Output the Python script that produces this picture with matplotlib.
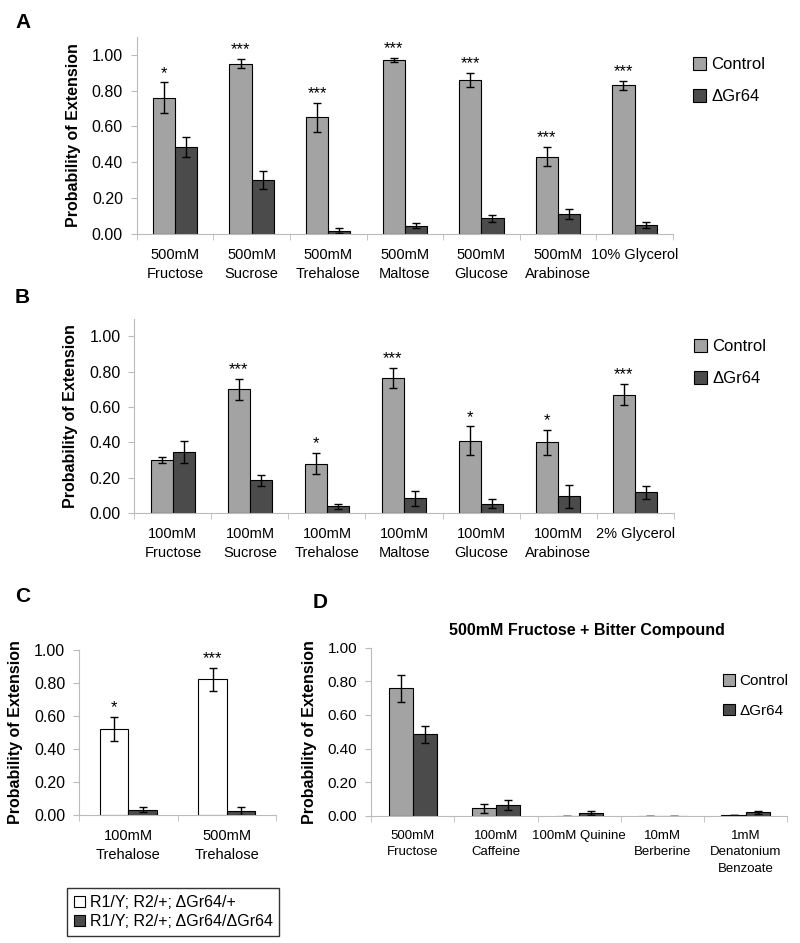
import numpy as np
import matplotlib
matplotlib.use("Agg")
import matplotlib.pyplot as plt
from matplotlib.patches import Patch

plt.rcParams['font.family'] = ['Liberation Sans', 'DejaVu Sans']
SANS = ['Liberation Sans', 'DejaVu Sans']

# --- data ---
a_labels = ["500mM\nFructose", "500mM\nSucrose", "500mM\nTrehalose", "500mM\nMaltose",
            "500mM\nGlucose", "500mM\nArabinose", "10% Glycerol"]
a_ctrl = [0.76, 0.95, 0.65, 0.97, 0.86, 0.43, 0.83]
a_ctrl_err = [0.085, 0.026, 0.08, 0.012, 0.038, 0.054, 0.025]
a_mut = [0.485, 0.30, 0.018, 0.046, 0.087, 0.111, 0.048]
a_mut_err = [0.054, 0.05, 0.013, 0.015, 0.02, 0.028, 0.018]
a_stars = ["*", "***", "***", "***", "***", "***", "***"]

b_labels = ["100mM\nFructose", "100mM\nSucrose", "100mM\nTrehalose", "100mM\nMaltose",
            "100mM\nGlucose", "100mM\nArabinose", "2% Glycerol"]
b_ctrl = [0.30, 0.70, 0.28, 0.765, 0.41, 0.40, 0.67]
b_ctrl_err = [0.015, 0.058, 0.06, 0.055, 0.08, 0.072, 0.06]
b_mut = [0.345, 0.184, 0.037, 0.083, 0.053, 0.094, 0.118]
b_mut_err = [0.061, 0.031, 0.014, 0.042, 0.025, 0.067, 0.037]
b_stars = ["", "***", "*", "***", "*", "*", "***"]

c_labels = ["100mM\nTrehalose", "500mM\nTrehalose"]
c_het = [0.52, 0.82]
c_het_err = [0.075, 0.07]
c_hom = [0.03, 0.022]
c_hom_err = [0.015, 0.022]
c_stars = ["*", "***"]

d_labels = ["500mM\nFructose", "100mM\nCaffeine", "100mM Quinine", "10mM\nBerberine",
            "1mM\nDenatonium\nBenzoate"]
d_ctrl = [0.76, 0.043, 0.0, 0.0, 0.005]
d_ctrl_err = [0.08, 0.025, 0.0, 0.0, 0.0]
d_mut = [0.485, 0.063, 0.016, 0.0, 0.02]
d_mut_err = [0.05, 0.032, 0.01, 0.0, 0.01]

LIGHT = "#a3a3a3"
DARK = "#4b4b4b"
W = 0.29


def bar_panel(ax, labels, v1, e1, v2, e2, c1, c2, ymax, fs=10.5, yfs=11.5):
    x = np.arange(len(labels))
    ax.bar(x - W / 2, v1, W, color=c1, edgecolor="black", linewidth=0.8,
           yerr=e1, error_kw=dict(ecolor="black", elinewidth=1, capsize=3, capthick=1))
    ax.bar(x + W / 2, v2, W, color=c2, edgecolor="black", linewidth=0.8,
           yerr=e2, error_kw=dict(ecolor="black", elinewidth=1, capsize=3, capthick=1))
    ax.set_xlim(-0.5, len(labels) - 0.5)
    ax.set_ylim(0, ymax)
    ax.set_yticks(np.arange(0, 1.01, 0.2))
    ax.set_yticklabels([f"{t:.2f}" for t in np.arange(0, 1.01, 0.2)], fontsize=yfs)
    ax.set_xticks(x)
    ax.set_xticklabels(labels, fontsize=fs, linespacing=1.5)
    ax.set_xticks(np.arange(-0.5, len(labels), 1), minor=True)
    ax.tick_params(axis="x", which="major", length=0, pad=10)
    ax.tick_params(axis="x", which="minor", length=4, color="#bbbbbb")
    ax.tick_params(axis="y", length=4, color="#bbbbbb", pad=6)
    for s in ["top", "right"]:
        ax.spines[s].set_visible(False)
    for s in ["left", "bottom"]:
        ax.spines[s].set_color("#bbbbbb")
    ax.set_ylabel("Probability of Extension", fontsize=11.5, fontweight="bold", labelpad=8)
    return x


def stars(ax, x, vals, errs, marks):
    for xi, v, e, m in zip(x, vals, errs, marks):
        if m:
            ax.text(xi - W / 2, v + e + 0.01, m, ha="center", va="bottom", fontsize=12)


def side_legend(ax, anchor, size=12):
    ax.legend(handles=[Patch(facecolor=LIGHT, edgecolor="black", linewidth=0.8, label="Control"),
                       Patch(facecolor=DARK, edgecolor="black", linewidth=0.8, label="ΔGr64")],
              loc="upper left", bbox_to_anchor=anchor, frameon=False, borderaxespad=0,
              handlelength=0.8, handleheight=0.8, handletextpad=0.3, labelspacing=1.0,
              prop=dict(size=size))


fig = plt.figure(figsize=(8, 9.43), dpi=100)

axA = fig.add_axes([0.171, 0.752, 0.670, 0.209])
x = bar_panel(axA, a_labels, a_ctrl, a_ctrl_err, a_mut, a_mut_err, LIGHT, DARK, 1.1)
stars(axA, x, a_ctrl, a_ctrl_err, a_stars)
side_legend(axA, (1.025, 0.93))

axB = fig.add_axes([0.168, 0.456, 0.674, 0.206])
x = bar_panel(axB, b_labels, b_ctrl, b_ctrl_err, b_mut, b_mut_err, LIGHT, DARK, 1.1)
stars(axB, x, b_ctrl, b_ctrl_err, b_stars)
side_legend(axB, (1.025, 0.93))

axC = fig.add_axes([0.099, 0.136, 0.246, 0.175])
x = bar_panel(axC, c_labels, c_het, c_het_err, c_hom, c_hom_err, "white", DARK, 1.0)
stars(axC, x, c_het, c_het_err, c_stars)
fig.legend(handles=[Patch(facecolor="white", edgecolor="black", linewidth=0.8,
                          label="R1/Y; R2/+; ΔGr64/+"),
                    Patch(facecolor=DARK, edgecolor="black", linewidth=0.8,
                          label="R1/Y; R2/+; ΔGr64/ΔGr64")],
           loc="upper left", bbox_to_anchor=(0.084, 0.058), frameon=True, fancybox=False,
           edgecolor="black", handlelength=0.7, handleheight=0.7, handletextpad=0.3,
           labelspacing=0.3, borderpad=0.4, borderaxespad=0, prop=dict(size=11.5))

axD = fig.add_axes([0.464, 0.135, 0.520, 0.178])
x = bar_panel(axD, d_labels, d_ctrl, d_ctrl_err, d_mut, d_mut_err, LIGHT, DARK, 1.0,
              fs=9.5, yfs=11)
side_legend(axD, (0.83, 0.88), size=11)
fig.text(587 / 800, 1 - 630 / 943, "500mM Fructose + Bitter Compound", ha="center",
         va="center", fontsize=11.5, fontweight="bold")

for lab, px, py in [("A", 15, 13), ("B", 15, 288), ("C", 15, 587), ("D", 313, 593)]:
    fig.text(px / 800, 1 - py / 943, lab, fontsize=15, fontweight="bold", va="top", ha="left")

fig.savefig("out.png", dpi=100)
